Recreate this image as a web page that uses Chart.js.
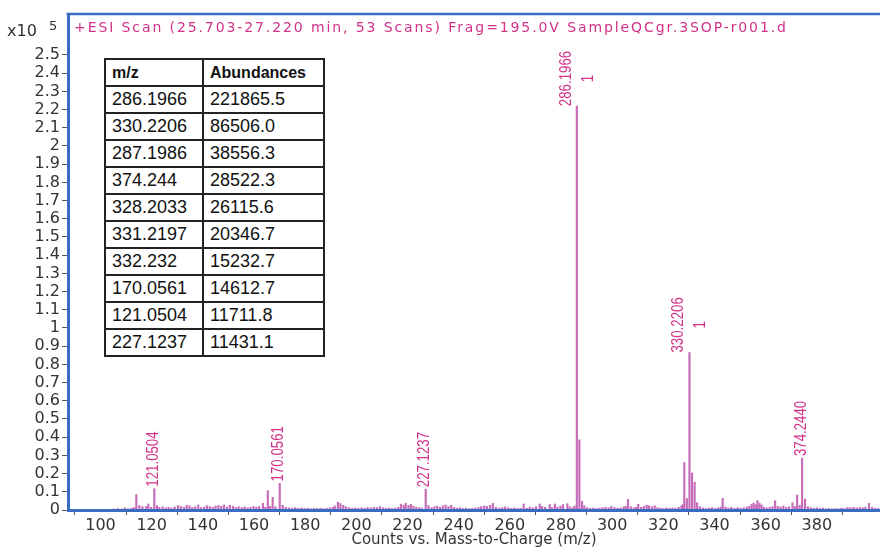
<!DOCTYPE html>
<html>
<head>
<meta charset="utf-8">
<title>ESI Scan spectrum</title>
<script src="https://cdn.jsdelivr.net/npm/chart.js@4.4.1/dist/chart.umd.min.js"></script>
<style>
  html, body { margin: 0; padding: 0; background: #fff; }
  #wrap { position: relative; width: 880px; height: 549px; }
  #peakTable {
    position: absolute; left: 104px; top: 58px; width: 219px;
    border-collapse: collapse; table-layout: fixed; background: #fff;
    font-family: 'Liberation Sans', Arial, sans-serif; color: #111;
  }
  #peakTable td, #peakTable th {
    border: 2px solid #222; height: 25px; padding: 0 0 0 6px;
    text-align: left; font-size: 18px; line-height: 25px; white-space: nowrap;
  }
  #peakTable th { font-weight: bold; font-size: 16px; }
</style>
</head>
<body>
<div id="wrap">
  <canvas id="chart"></canvas>
  <table id="peakTable">
    <colgroup><col style="width:98px"><col style="width:121px"></colgroup>
    <thead><tr><th>m/z</th><th>Abundances</th></tr></thead>
    <tbody></tbody>
  </table>
</div>
<script>
// top ten peaks (m/z, counts)
const tableMz = ['286.1966', '330.2206', '287.1986', '374.244', '328.2033',
                 '331.2197', '332.232', '170.0561', '121.0504', '227.1237'];
const tableAbund = [221865.5, 86506.0, 38556.3, 28522.3, 26115.6,
                    20346.7, 15232.7, 14612.7, 11711.8, 11431.1];

// remaining centroid sticks
const minorMz = [
  105.2, 106.8, 108.3, 109.5, 110.7, 112.1, 113.0, 114.0, 115.2, 116.4, 117.9, 118.7, 119.8,
  122.1, 123.0, 124.3, 125.5, 126.6, 127.8, 129.0, 130.3, 131.4, 132.6, 133.7, 134.8, 135.9,
  137.0, 138.2, 139.3, 140.5, 141.6, 142.7, 143.9, 145.0, 146.1, 147.2, 148.3, 149.5, 150.6,
  151.8, 152.9, 154.0, 155.2, 156.3, 157.5, 158.6, 159.8, 160.9, 162.0, 163.5, 164.4, 165.4,
  166.3, 167.3, 168.4, 171.2, 172.4, 173.6, 174.9, 176.1, 177.3, 178.5, 179.8, 181.0, 182.3,
  183.5, 184.7, 186.0, 187.2, 188.4, 189.6, 190.8, 191.6, 192.8, 193.8, 194.9, 196.0, 197.2,
  198.4, 199.6, 200.8, 202.0, 203.2, 204.4, 205.6, 206.8, 208.0, 209.2, 210.4, 211.6, 212.8,
  214.0, 215.2, 216.4, 217.4, 218.5, 219.3, 220.4, 221.3, 222.3, 223.4, 224.5, 225.6, 228.2,
  229.4, 230.5, 231.6, 232.7, 233.8, 234.9, 236.0, 237.1, 238.2, 239.3, 240.5, 241.7, 242.9,
  244.1, 245.3, 246.5, 247.7, 248.8, 250.0, 251.1, 252.3, 253.4, 254.6, 255.8, 257.0, 258.2,
  259.4, 260.6, 261.8, 263.0, 264.2, 265.4, 266.6, 267.8, 269.0, 270.2, 271.7, 272.6, 273.8,
  275.6, 276.4, 277.6, 278.6, 279.8, 280.8, 282.5, 283.4, 284.6, 285.3, 288.2, 289.1, 290.2,
  291.4, 292.6, 293.8, 295.0, 296.2, 297.4, 298.6, 299.7, 300.9, 302.1, 303.3, 304.5, 305.3,
  306.2, 307.3, 308.5, 309.4, 310.2, 311.3, 312.4, 313.5, 314.4, 315.5, 316.6, 317.7, 318.8,
  320.0, 321.2, 322.4, 323.6, 324.8, 326.0, 327.1, 327.7, 329.2, 333.2, 334.3, 335.5, 336.7,
  337.9, 339.0, 340.2, 341.4, 342.4, 343.2, 344.3, 345.4, 346.6, 347.8, 349.0, 350.2, 351.4,
  352.6, 353.6, 354.5, 355.3, 356.2, 356.8, 357.6, 358.4, 359.3, 360.4, 361.6, 362.7, 363.7,
  364.7, 365.8, 366.9, 368.0, 369.1, 370.5, 371.4, 372.3, 373.3, 375.4, 376.5, 377.6, 378.8,
  380.0, 381.2, 382.4, 383.6, 384.8, 386.0, 387.2, 388.4, 389.6, 390.8, 392.0, 393.2, 394.4,
  395.6, 396.8, 398.0, 399.0, 400.4, 401.6, 402.8, 404.0
];
const minorCounts = [
  600, 800, 500, 1200, 700, 900, 1400, 8500, 2400, 1800, 2000, 3300, 1500,
  2400, 1500, 1800, 1200, 1600, 1100, 1700, 2400, 2000, 1500, 2600, 2200, 1400,
  1800, 2700, 1300, 1600, 2300, 1900, 1500, 2200, 2500, 2000, 2800, 1700, 2600,
  2100, 1400, 1800, 1300, 1700, 1200, 1500, 2000, 1600, 1900, 3700, 1500, 10600,
  2000, 7000, 1800, 2600, 1500, 1200, 1000, 1300, 900, 1100, 800, 1000, 700,
  900, 800, 1000, 700, 900, 1200, 1500, 2200, 4300, 3600, 2600, 1800, 1300,
  900, 1100, 800, 1200, 1000, 1400, 1100, 1500, 1300, 1900, 1200, 900, 1100,
  800, 1000, 1500, 3200, 2600, 3700, 2500, 3100, 2200, 1600, 1300, 1100, 2400,
  1300, 1800, 2100, 1500, 2300, 2700, 1900, 2600, 1400, 1000, 1200, 800, 1000,
  700, 900, 1100, 1400, 1900, 2300, 2000, 2600, 3700, 1500, 1000, 1300, 1700,
  1200, 900, 1100, 800, 1000, 3300, 900, 1600, 1200, 1800, 3300, 2000, 1500,
  3000, 1400, 3300, 1600, 2100, 3000, 3500, 1800, 1300, 2200, 4800, 2400, 1300,
  900, 1100, 800, 1000, 1300, 1600, 1200, 2000, 1400, 1000, 1200, 1700, 2100,
  5900, 1800, 1200, 1600, 3100, 1500, 2000, 2600, 2300, 1800, 2400, 1300, 1000,
  800, 1100, 900, 1200, 1000, 1500, 2300, 3000, 6300, 4000, 1800, 1100, 800,
  1000, 1300, 900, 1200, 1600, 6400, 1700, 1100, 1500, 900, 1300, 1000, 1200,
  1600, 2000, 3200, 3800, 2900, 5100, 3600, 2800, 1600, 1200, 1500, 1900, 5100,
  2000, 1600, 2200, 1400, 1800, 4000, 1900, 8200, 2600, 6000, 1800, 1300, 1000,
  1200, 800, 1000, 700, 900, 600, 800, 700, 1000, 800, 1400, 1300, 1500,
  1100, 1400, 1200, 1600, 3700, 1500, 1000, 800
];

// annotated peaks; the charged ones carry a "1" charge-state flag
const labelledPeaks = ['121.0504', '170.0561', '227.1237', '286.1966', '330.2206', '374.2440'];
const chargedPeaks = ['286.1966', '330.2206'];

const xTicks = [100, 120, 140, 160, 180, 200, 220, 240, 260, 280, 300, 320, 340, 360, 380, 400];
// counts, shown as x10^5
const yTicks = [0, 10000, 20000, 30000, 40000, 50000, 60000, 70000, 80000, 90000,
                100000, 110000, 120000, 130000, 140000, 150000, 160000, 170000, 180000,
                190000, 200000, 210000, 220000, 230000, 240000, 250000];

const scanTitle = '+ESI Scan (25.703-27.220 min, 53 Scans) Frag=195.0V SampleQCgr.3SOP-r001.d';
const AXIS_BLUE = '#3b6cc3';
const STICK = '#c66cb8';
const PINK = '#d2318a';

// fill the peak table
const tbody = document.querySelector('#peakTable tbody');
tableMz.forEach((m, i) => {
  const tr = document.createElement('tr');
  tr.innerHTML = '<td>' + m + '</td><td>' + tableAbund[i].toFixed(1) + '</td>';
  tbody.appendChild(tr);
});

const sticks = tableMz.map((m, i) => ({ x: parseFloat(m), y: tableAbund[i] }))
  .concat(minorMz.map((m, i) => ({ x: m, y: minorCounts[i] })));

// rotated, condensed label reading bottom to top
function upText(ctx, txt, px, py) {
  ctx.save();
  ctx.translate(px, py);
  ctx.rotate(-Math.PI / 2);
  ctx.scale(0.78, 1);
  ctx.fillText(txt, 0, 0);
  ctx.restore();
}

const decorations = {
  id: 'decorations',
  afterDraw(chart) {
    const { ctx, chartArea: a, scales: { x, y } } = chart;
    ctx.save();
    // top edge of the frame
    ctx.strokeStyle = AXIS_BLUE;
    ctx.lineWidth = 2.5;
    ctx.beginPath();
    ctx.moveTo(a.left - 1.5, a.top);
    ctx.lineTo(a.right, a.top);
    ctx.stroke();

    // scan header
    ctx.fillStyle = PINK;
    ctx.font = '14px "DejaVu Sans"';
    ctx.letterSpacing = '1.9px';
    ctx.textAlign = 'left';
    ctx.textBaseline = 'middle';
    ctx.fillText(scanTitle, a.left + 6, a.top + 14);
    ctx.letterSpacing = '0px';

    // y multiplier
    ctx.fillStyle = '#333';
    ctx.font = '16px "DejaVu Sans"';
    ctx.fillText('x10', 7, 32);
    ctx.font = '13px "DejaVu Sans"';
    ctx.fillText('5', 49, 27);

    // peak annotations
    ctx.fillStyle = PINK;
    ctx.font = '17px "Liberation Sans"';
    labelledPeaks.forEach(txt => {
      const mz = parseFloat(txt);
      const i = tableMz.findIndex(m => parseFloat(m) === mz);
      const px = x.getPixelForValue(mz);
      const py = y.getPixelForValue(tableAbund[i]);
      if (chargedPeaks.includes(txt)) {
        upText(ctx, txt, px - 11, py);
        upText(ctx, '1', px + 11, py - 24);
      } else {
        upText(ctx, txt, px - 1, py - 2);
      }
    });
    ctx.restore();
  }
};

new Chart(document.getElementById('chart'), {
  type: 'bar',
  data: {
    datasets: [{
      data: sticks,
      backgroundColor: STICK,
      borderWidth: 0,
      barThickness: 1.5,
      grouped: false
    }]
  },
  options: {
    responsive: true,
    maintainAspectRatio: false,
    animation: false,
    layout: { padding: { top: 14, right: 0, left: 0, bottom: 0 } },
    plugins: { legend: { display: false }, tooltip: { enabled: false } },
    scales: {
      x: {
        type: 'linear',
        min: 87.3,
        max: 404.7,
        offset: false,
        afterBuildTicks: s => { s.ticks = xTicks.map(v => ({ value: v })); },
        afterFit: s => { s.height = 39; },
        grid: { drawOnChartArea: false, drawTicks: true, tickLength: 5, color: '#555' },
        border: { display: true, color: AXIS_BLUE, width: 3, z: 1 },
        ticks: {
          autoSkip: false, maxRotation: 0, padding: 1, color: '#333',
          font: { family: 'DejaVu Sans', size: 16 },
          callback: v => (v >= 400 ? '' : v)
        },
        title: {
          display: true, text: 'Counts vs. Mass-to-Charge (m/z)', color: '#333',
          font: { family: 'DejaVu Sans', size: 15 }, padding: { top: 0, bottom: 0 }
        }
      },
      y: {
        min: 0,
        max: 272500,
        afterBuildTicks: s => { s.ticks = yTicks.map(v => ({ value: v })); },
        afterFit: s => { s.width = 68; },
        grid: { drawOnChartArea: false, drawTicks: true, tickLength: 6, color: '#555' },
        border: { display: true, color: AXIS_BLUE, width: 3, z: 1 },
        ticks: {
          autoSkip: false, padding: 2, color: '#333',
          font: { family: 'DejaVu Sans', size: 16 },
          callback: v => String(+(v / 1e5).toFixed(1))
        }
      }
    }
  },
  plugins: [decorations]
});
</script>
</body>
</html>
